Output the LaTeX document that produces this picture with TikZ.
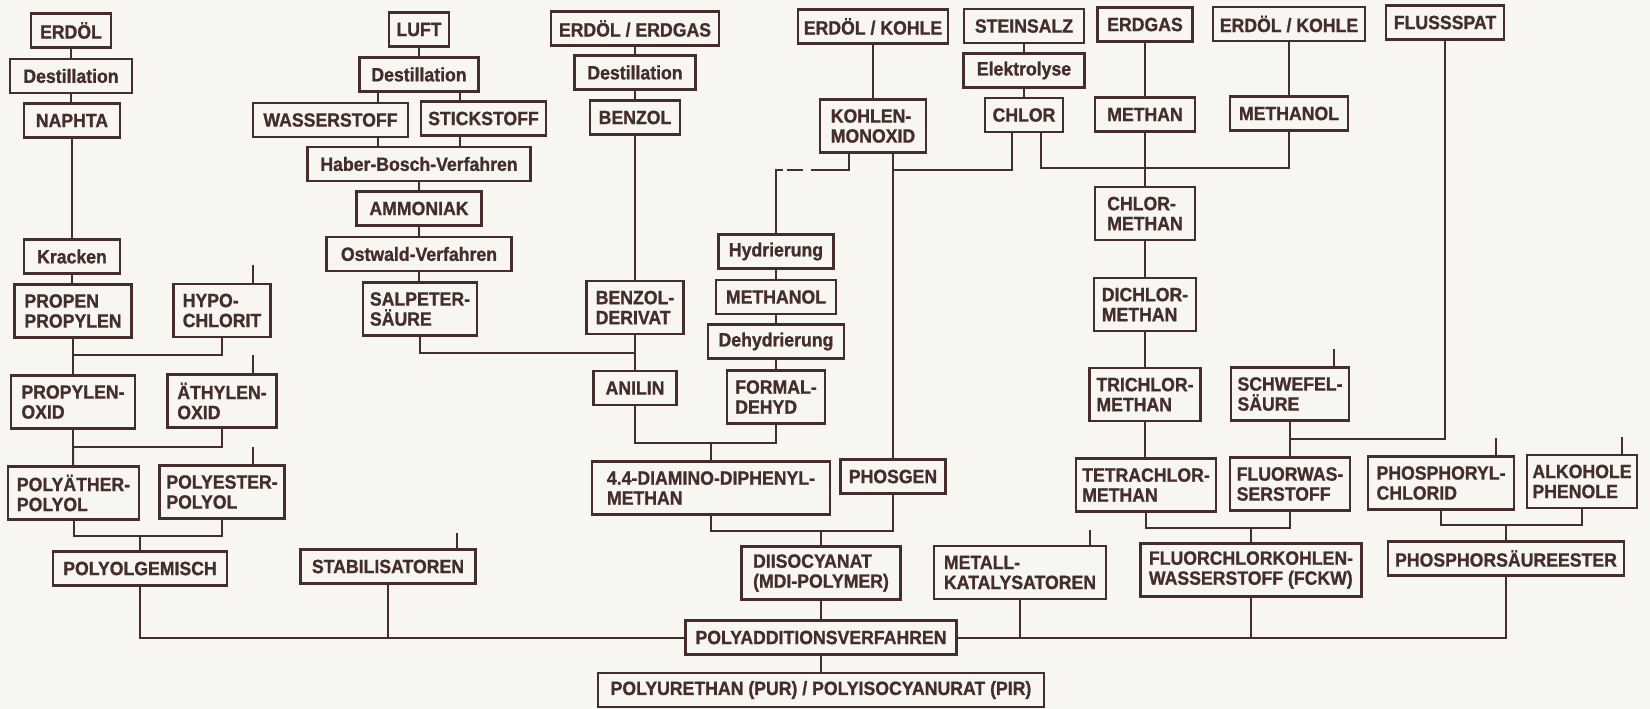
\documentclass[tikz,border=0pt]{standalone}
\usepackage{fontspec}
\setmainfont{Liberation Sans}[FakeStretch=0.92,BoldFeatures={FakeBold=1}]
\usepackage{tikz}
\definecolor{ink}{RGB}{68,45,42}
\definecolor{paper}{RGB}{247,246,240}

\begin{document}
\begin{tikzpicture}[x=1pt,y=-1pt,
    box/.style={draw=ink,line width=2.4pt,text=ink,inner xsep=3pt,inner ysep=2pt,
      font=\bfseries\fontsize{19.2}{20}\selectfont,minimum height=34pt},
    zwei/.style={box,minimum height=53pt,align=left},
    line/.style={draw=ink,line width=2pt}]
      \fill[paper] (0,0) rectangle (1650,709);
      \useasboundingbox (0,0) rectangle (1650,709);
      % Erdoel - Naphta - Propen
      \node[box,minimum width=80pt] (erdoel) at (71,30.5) {ERDÖL};
      \node[box,minimum width=122pt] (destA) at (71,76) {Destillation};
      \node[box,minimum width=96pt] (naphta) at (72,120.5) {NAPHTA};
      \node[box,minimum width=96pt] (kracken) at (72,256.5) {Kracken};
      \node[zwei,minimum width=117pt] (propen) at (73,311) {PROPEN\\PROPYLEN};
      \node[zwei,minimum width=97pt] (hypo) at (222,310.5) {HYPO-\\CHLORIT};
      \node[zwei,minimum width=124pt] (propoxid) at (73,402) {PROPYLEN-\\OXID};
      \node[zwei,minimum width=109pt] (aethoxid) at (222,401) {ÄTHYLEN-\\OXID};
      \node[zwei,minimum width=131pt] (polyaether) at (73.5,493) {POLYÄTHER-\\POLYOL};
      \node[zwei,minimum width=125pt] (polyester) at (222,492) {POLYESTER-\\POLYOL};
      \node[box,minimum width=174pt] (polyolgem) at (140,568.5) {POLYOLGEMISCH};
      \node[box,minimum width=175pt] (stabil) at (388,566.5) {STABILISATOREN};
      % Luft - Salpetersaeure
      \node[box,minimum width=60pt] (luft) at (419,29.5) {LUFT};
      \node[box,minimum width=119pt] (destB) at (419,74.5) {Destillation};
      \node[box,minimum width=155pt] (wasser) at (330.5,120) {WASSERSTOFF};
      \node[box,minimum width=125pt] (stick) at (483.5,118.5) {STICKSTOFF};
      \node[box,minimum width=223pt] (haber) at (419,164) {Haber-Bosch-Verfahren};
      \node[box,minimum width=125pt] (ammon) at (419,208.5) {AMMONIAK};
      \node[box,minimum width=185pt] (ostwald) at (419,254) {Ostwald-Verfahren};
      \node[zwei,minimum width=114pt] (salpeter) at (420,309) {SALPETER-\\SÄURE};
      % Benzol - Anilin
      \node[box,minimum width=168pt] (erdgasA) at (635,28.5) {ERDÖL / ERDGAS};
      \node[box,minimum width=121pt] (destC) at (635,72.5) {Destillation};
      \node[box,minimum width=90pt] (benzol) at (635,117.5) {BENZOL};
      \node[zwei,minimum width=97pt] (benzolder) at (635,307.5) {BENZOL-\\DERIVAT};
      \node[box,minimum width=83pt] (anilin) at (635,388) {ANILIN};
      % Kohlenmonoxid - Diisocyanat
      \node[box,minimum width=150pt] (kohleA) at (873,26.5) {ERDÖL / KOHLE};
      \node[zwei,minimum width=106pt] (co) at (873,126) {KOHLEN-\\MONOXID};
      \node[box,minimum width=115pt] (hydr) at (776,251.5) {Hydrierung};
      \node[box,minimum width=120pt] (methanolA) at (776,297) {METHANOL};
      \node[box,minimum width=136pt] (dehydr) at (776,341.5) {Dehydrierung};
      \node[zwei,minimum width=98pt] (formal) at (776,397) {FORMAL-\\DEHYD};
      \node[zwei,minimum width=238pt] (diamino) at (711,488) {4.4-DIAMINO-DIPHENYL-\\METHAN};
      \node[box,minimum width=105pt] (phosgen) at (893,476.5) {PHOSGEN};
      \node[zwei,minimum width=159pt] (diiso) at (821,573) {DIISOCYANAT\\(MDI-POLYMER)};
      \node[zwei,minimum width=172pt] (metall) at (1020,572.5) {METALL-\\KATALYSATOREN};
      \node[box,minimum width=271pt] (polyadd) at (821,637.5) {POLYADDITIONSVERFAHREN};
      \node[box,minimum width=446pt] (pur) at (821,690) {POLYURETHAN (PUR) / POLYISOCYANURAT (PIR)};
      % Chlor
      \node[box,minimum width=120pt] (steinsalz) at (1024,26) {STEINSALZ};
      \node[box,minimum width=121pt] (elektro) at (1024,70.5) {Elektrolyse};
      \node[box,minimum width=78pt] (chlor) at (1024,115) {CHLOR};
      % Methan - FCKW
      \node[box,minimum width=95pt] (erdgasB) at (1145,24.5) {ERDGAS};
      \node[box,minimum width=100pt] (methan) at (1145,114.5) {METHAN};
      \node[zwei,minimum width=100pt] (chlormeth) at (1145,213.5) {CHLOR-\\METHAN};
      \node[zwei,minimum width=102pt] (dichlor) at (1145,304.5) {DICHLOR-\\METHAN};
      \node[zwei,minimum width=111pt] (trichlor) at (1145,394.5) {TRICHLOR-\\METHAN};
      \node[zwei,minimum width=140pt] (tetra) at (1146,485) {TETRACHLOR-\\METHAN};
      \node[box,minimum width=152pt] (kohleB) at (1289,24) {ERDÖL / KOHLE};
      \node[box,minimum width=118pt] (methanolB) at (1289,113.5) {METHANOL};
      \node[box,minimum width=118pt] (fluss) at (1445,22.5) {FLUSSSPAT};
      \node[zwei,minimum width=118pt] (schwefel) at (1290,394) {SCHWEFEL-\\SÄURE};
      \node[zwei,minimum width=120pt] (fluorwas) at (1290,484) {FLUORWAS-\\SERSTOFF};
      \node[zwei,minimum width=221pt] (fckw) at (1251,570) {FLUORCHLORKOHLEN-\\WASSERSTOFF (FCKW)};
      \node[zwei,minimum width=146pt] (phosphoryl) at (1441,483) {PHOSPHORYL-\\CHLORID};
      \node[zwei,minimum width=110pt] (alkohole) at (1582,481.5) {ALKOHOLE\\PHENOLE};
      \node[box,minimum width=236pt] (phosester) at (1506,558.5) {PHOSPHORSÄUREESTER};
      % junctions and loose ends
      \coordinate (j1) at (73,355);
      \coordinate (j2) at (73,447);
      \coordinate (j3) at (140,536);
      \coordinate (j4) at (635,353);
      \coordinate (j5) at (711,443);
      \coordinate (j6) at (776,170);
      \coordinate (j7) at (893,170);
      \coordinate (j8) at (1145,168);
      \coordinate (j9) at (1290,439);
      \coordinate (j10) at (1251,528);
      \coordinate (j11) at (1506,525);
      \coordinate (j12) at (821,531);
      \coordinate (lw) at (378,0);
      \coordinate (ls) at (460,0);
      \coordinate (cl) at (849,0);
      \coordinate (chl) at (1012,0);
      \coordinate (chr) at (1041,0);
      \coordinate (s1) at (253,265);
      \coordinate (s2) at (253,355);
      \coordinate (s3) at (253,447);
      \coordinate (s4) at (457,533);
      \coordinate (s5) at (1334,349);
      \coordinate (s6) at (1496,438);
      \coordinate (s7) at (1622,437);
      \coordinate (s8) at (1090,530);
      % left branch
      \draw[line] (erdoel) -- (erdoel |- destA.north);
      \draw[line] (destA) -- (destA |- naphta.north);
      \draw[line] (naphta) -- (naphta |- kracken.north);
      \draw[line] (kracken) -- (kracken |- propen.north);
      \draw[line] (propen) -- (j1) -| (hypo);
      \draw[line] (j1) -- (propoxid);
      \draw[line] (propoxid) -- (j2) -| (aethoxid);
      \draw[line] (j2) -- (polyaether);
      \draw[line] (polyaether) |- (j3) -| (polyester);
      \draw[line] (j3) -- (polyolgem);
      \draw[line] (s1) -- (s1 |- hypo.north);
      \draw[line] (s2) -- (s2 |- aethoxid.north);
      \draw[line] (s3) -- (s3 |- polyester.north);
      \draw[line] (s4) -- (s4 |- stabil.north);
      \draw[line] (polyolgem) |- (polyadd);
      \draw[line] (stabil) -- (stabil |- polyadd);
      % Luft
      \draw[line] (luft) -- (luft |- destB.north);
      \draw[line] (destB.south -| lw) -- (wasser.north -| lw);
      \draw[line] (destB.south -| ls) -- (stick.north -| ls);
      \draw[line] (wasser.south -| lw) -- (haber.north -| lw);
      \draw[line] (stick.south -| ls) -- (haber.north -| ls);
      \draw[line] (haber) -- (haber |- ammon.north);
      \draw[line] (ammon) -- (ammon |- ostwald.north);
      \draw[line] (ostwald) -- (ostwald |- salpeter.north);
      \draw[line] (salpeter) |- (j4);
      % Benzol
      \draw[line] (erdgasA) -- (erdgasA |- destC.north);
      \draw[line] (destC) -- (destC |- benzol.north);
      \draw[line] (benzol) -- (benzol |- benzolder.north);
      \draw[line] (benzolder) -- (benzolder |- anilin.north);
      \draw[line] (anilin) |- (j5) -| (formal);
      \draw[line] (j5) -- (diamino);
      % Kohlenmonoxid
      \draw[line] (kohleA) -- (kohleA |- co.north);
      \draw[line] (co.south -| cl) |- ([xshift=35pt]j6);
      \draw[line] ([xshift=27pt]j6) -- ([xshift=11pt]j6);
      \draw[line] ([xshift=7pt]j6) -- (j6) -- (hydr);
      \draw[line] (hydr) -- (hydr |- methanolA.north);
      \draw[line] (methanolA) -- (methanolA |- dehydr.north);
      \draw[line] (dehydr) -- (dehydr |- formal.north);
      \draw[line] (co.south -| phosgen) -- (phosgen);
      \draw[line] (diamino) |- (j12) -| (phosgen);
      \draw[line] (j12) -- (diiso);
      \draw[line] (diiso) -- (diiso |- polyadd.north);
      \draw[line] (polyadd) -- (polyadd |- pur.north);
      % Chlor
      \draw[line] (steinsalz) -- (steinsalz |- elektro.north);
      \draw[line] (elektro) -- (elektro |- chlor.north);
      \draw[line] (chlor.south -| chl) |- (j7);
      \draw[line] (chlor.south -| chr) |- (j8) -| (methanolB);
      % Methan
      \draw[line] (erdgasB) -- (erdgasB |- methan.north);
      \draw[line] (methan) -- (methan |- chlormeth.north);
      \draw[line] (chlormeth) -- (chlormeth |- dichlor.north);
      \draw[line] (dichlor) -- (dichlor |- trichlor.north);
      \draw[line] (trichlor) -- (trichlor |- tetra.north);
      \draw[line] (kohleB) -- (kohleB |- methanolB.north);
      \draw[line] (fluss) |- (j9);
      \draw[line] (schwefel) -- (schwefel |- fluorwas.north);
      \draw[line] (tetra) |- (j10) -| (fluorwas);
      \draw[line] (j10) -- (fckw);
      \draw[line] (phosphoryl) |- (j11) -| (alkohole);
      \draw[line] (j11) -- (phosester);
      \draw[line] (s5) -- (s5 |- schwefel.north);
      \draw[line] (s6) -- (s6 |- phosphoryl.north);
      \draw[line] (s7) -- (s7 |- alkohole.north);
      \draw[line] (s8) -- (s8 |- metall.north);
      \draw[line] (metall) -- (metall |- polyadd);
      \draw[line] (fckw) |- (polyadd);
      \draw[line] (phosester) |- (polyadd);
    \end{tikzpicture}
\end{document}
